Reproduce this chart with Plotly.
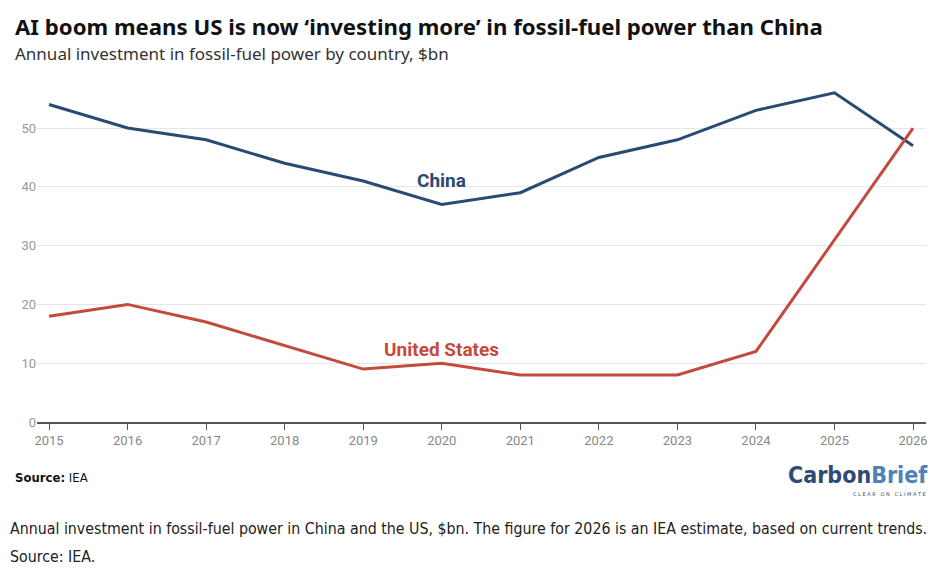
import plotly.graph_objects as go

years = list(range(2015, 2027))
china = [54, 50, 48, 44, 41, 37, 39, 45, 48, 53, 56, 47]
united_states = [18, 20, 17, 13, 9, 10, 8, 8, 8, 12, 31, 50]
y_ticks = [0, 10, 20, 30, 40, 50]

navy = "#2b4a73"
red = "#c44a3b"

# page body has an 8px margin, so the figure is 16px smaller than the window
W, H = 931, 561
L, R, T, B = 29, 13, 73, 147
plot_w = W - L - R
plot_h = H - T - B


def paper(xp, yp):
    # window pixel -> paper coordinates
    return (xp - 8 - L) / plot_w, (H - B - (yp - 8)) / plot_h


fig = go.Figure()

fig.add_trace(go.Scatter(x=years, y=china, mode="lines", name="China",
                         line=dict(color=navy, width=3)))
fig.add_trace(go.Scatter(x=years, y=united_states, mode="lines", name="United States",
                         line=dict(color=red, width=3)))

# series labels inside the plot
fig.add_annotation(x=2020, y=41, text="<b>China</b>", showarrow=False,
                   font=dict(family="Roboto", size=19, color=navy))
fig.add_annotation(x=2020, y=12.3, text="<b>United States</b>", showarrow=False,
                   font=dict(family="Roboto", size=19, color=red))

fig.update_xaxes(
    range=[2014.847, 2026.165],
    tickmode="array", tickvals=years,
    showgrid=False, showline=True, linecolor="#555", linewidth=1.5,
    ticks="outside", ticklen=6, tickcolor="#555",
    tickfont=dict(family="Roboto", size=13, color="#888"),
)
fig.update_yaxes(
    range=[0, 58],
    tickmode="array", tickvals=y_ticks,
    showgrid=True, gridcolor="#e6e6e6", gridwidth=1,
    zeroline=False, showline=False,
    tickfont=dict(family="Roboto", size=13, color="#999"),
)

narrow = "DejaVu Sans Condensed, sans-serif"

fig.update_layout(
    width=W, height=H,
    margin=dict(l=L, r=R, t=T, b=B),
    plot_bgcolor="white", paper_bgcolor="white",
    showlegend=False,
    font=dict(family="Noto Sans"),
)


def text_at(xp, yp, text, font, anchor="left"):
    x, y = paper(xp, yp)
    fig.add_annotation(xref="paper", yref="paper", x=x, y=y,
                       xanchor=anchor, yanchor="middle", showarrow=False,
                       text=text, font=font)


text_at(13, 27, "<b>AI boom means US is now ‘investing more’ in fossil-fuel power than China</b>",
        dict(family="Noto Sans", size=22.2, color="#111"))
text_at(13, 53, "Annual investment in fossil-fuel power by country, $bn",
        dict(family="Noto Sans", size=17, color="#333"))
text_at(13, 477, "<b>Source:</b> IEA",
        dict(family=narrow, size=13, color="#111"))
# Carbon Brief logo as text
text_at(930, 475, "<b><span style='color:#2d4b73'>Carbon</span><span style='color:#4f82b8'>Brief</span></b>",
        dict(family=narrow, size=23), anchor="right")
text_at(928, 494, "C L E A R   O N   C L I M A T E",
        dict(family="DejaVu Sans", size=5, color="#2d4b73"), anchor="right")
text_at(8, 528, "Annual investment in fossil-fuel power in China and the US, $bn. The figure for 2026 is an IEA estimate, based on current trends.",
        dict(family=narrow, size=15.8, color="#222"))
text_at(8, 556, "Source: IEA.",
        dict(family=narrow, size=15.8, color="#222"))

fig.write_html("out.html")
